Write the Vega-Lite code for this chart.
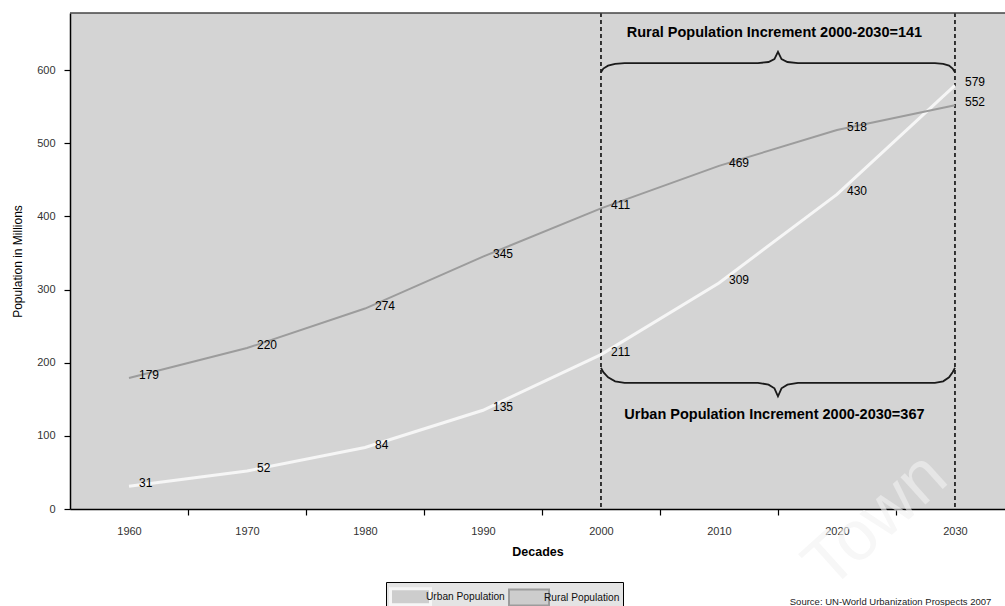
{
  "$schema": "https://vega.github.io/schema/vega-lite/v6.json",
  "width": 935,
  "height": 496,
  "autosize": {"type": "none"},
  "padding": {"left": 70, "top": 13, "right": 0, "bottom": 97},
  "background": "white",
  "config": {
    "font": "Liberation Sans",
    "view": {"stroke": null, "fill": "#d4d4d4"},
    "axis": {"grid": false, "zindex": 1, "domainColor": "#000", "domainWidth": 1.5, "tickColor": "#000", "tickWidth": 1.2, "labelColor": "#333", "labelFont": "Liberation Sans", "titleFont": "Liberation Sans"}
  },
  "datasets": {
    "pop": [
      {"decade": 1960, "series": "Urban Population", "value": 31},
      {"decade": 1970, "series": "Urban Population", "value": 52},
      {"decade": 1980, "series": "Urban Population", "value": 84},
      {"decade": 1990, "series": "Urban Population", "value": 135},
      {"decade": 2000, "series": "Urban Population", "value": 211},
      {"decade": 2010, "series": "Urban Population", "value": 309},
      {"decade": 2020, "series": "Urban Population", "value": 430},
      {"decade": 2030, "series": "Urban Population", "value": 579},
      {"decade": 1960, "series": "Rural Population", "value": 179},
      {"decade": 1970, "series": "Rural Population", "value": 220},
      {"decade": 1980, "series": "Rural Population", "value": 274},
      {"decade": 1990, "series": "Rural Population", "value": 345},
      {"decade": 2000, "series": "Rural Population", "value": 411},
      {"decade": 2010, "series": "Rural Population", "value": 469},
      {"decade": 2020, "series": "Rural Population", "value": 518},
      {"decade": 2030, "series": "Rural Population", "value": 552}
    ],
    "markers": [{"x": 2000}, {"x": 2030}],
    "braces": [
      {"b": "top", "i": 1, "x": 2000, "y": 597},
      {"b": "top", "i": 2, "x": 2000.2, "y": 602},
      {"b": "top", "i": 3, "x": 2000.6, "y": 606},
      {"b": "top", "i": 4, "x": 2001.2, "y": 608.6},
      {"b": "top", "i": 5, "x": 2002, "y": 609.5},
      {"b": "top", "i": 6, "x": 2013.3, "y": 609.5},
      {"b": "top", "i": 7, "x": 2014.2, "y": 611},
      {"b": "top", "i": 8, "x": 2014.7, "y": 615},
      {"b": "top", "i": 9, "x": 2015, "y": 625},
      {"b": "top", "i": 10, "x": 2015.3, "y": 615},
      {"b": "top", "i": 11, "x": 2015.8, "y": 611},
      {"b": "top", "i": 12, "x": 2016.7, "y": 609.5},
      {"b": "top", "i": 13, "x": 2028.3, "y": 609.5},
      {"b": "top", "i": 14, "x": 2029, "y": 608.6},
      {"b": "top", "i": 15, "x": 2029.5, "y": 606},
      {"b": "top", "i": 16, "x": 2029.8, "y": 602},
      {"b": "top", "i": 17, "x": 2030, "y": 597},
      {"b": "bottom", "i": 1, "x": 2000, "y": 193},
      {"b": "bottom", "i": 2, "x": 2000.2, "y": 187},
      {"b": "bottom", "i": 3, "x": 2000.6, "y": 180},
      {"b": "bottom", "i": 4, "x": 2001.2, "y": 174.5},
      {"b": "bottom", "i": 5, "x": 2002, "y": 172.5},
      {"b": "bottom", "i": 6, "x": 2013.3, "y": 172.5},
      {"b": "bottom", "i": 7, "x": 2014.2, "y": 170},
      {"b": "bottom", "i": 8, "x": 2014.7, "y": 165},
      {"b": "bottom", "i": 9, "x": 2015, "y": 154},
      {"b": "bottom", "i": 10, "x": 2015.3, "y": 165},
      {"b": "bottom", "i": 11, "x": 2015.8, "y": 170},
      {"b": "bottom", "i": 12, "x": 2016.7, "y": 172.5},
      {"b": "bottom", "i": 13, "x": 2028.3, "y": 172.5},
      {"b": "bottom", "i": 14, "x": 2029, "y": 174.5},
      {"b": "bottom", "i": 15, "x": 2029.5, "y": 180},
      {"b": "bottom", "i": 16, "x": 2029.8, "y": 187},
      {"b": "bottom", "i": 17, "x": 2030, "y": 193}
    ],
    "notes": [
      {"x": 2014.7, "y": 650, "label": "Rural Population Increment 2000-2030=141"},
      {"x": 2014.7, "y": 128.5, "label": "Urban Population Increment 2000-2030=367"}
    ],
    "watermark": [{"x": 2023.3, "y": -16, "label": "Town"}],
    "source": [{"x": 2016.0, "y": -131, "label": "Source: UN-World Urbanization Prospects 2007"}]
  },
  "layer": [
    {
      "data": {"name": "markers"},
      "mark": {"type": "rule", "color": "#000", "strokeWidth": 1.5, "strokeDash": [4, 3]},
      "encoding": {
        "x": {"field": "x", "type": "quantitative", "scale": {"domain": [1955, 2034.24], "nice": false, "zero": false}}
      }
    },
    {
      "data": {"name": "pop"},
      "mark": {"type": "line", "clip": true},
      "encoding": {
        "x": {
          "field": "decade", "type": "quantitative",
          "scale": {"domain": [1955, 2034.24], "nice": false, "zero": false},
          "axis": {
            "title": "Decades", "titleFontWeight": "bold", "titleFontSize": 12.5, "titleColor": "#000", "titlePadding": 9,
            "values": [1960, 1965, 1970, 1975, 1980, 1985, 1990, 1995, 2000, 2005, 2010, 2015, 2020, 2025, 2030],
            "labelExpr": "datum.value % 10 === 0 ? '' + datum.value : ''",
            "tickOpacity": {"condition": {"test": "datum.value % 10 === 0", "value": 0}, "value": 1},
            "tickSize": 6, "labelPadding": 10, "labelFontSize": 11, "labelFlush": false
          }
        },
        "y": {
          "field": "value", "type": "quantitative",
          "scale": {"domain": [0, 678], "nice": false},
          "axis": {
            "title": "Population in Millions", "titleFontWeight": "normal", "titleFontSize": 12, "titleColor": "#000", "titlePadding": 12,
            "values": [0, 100, 200, 300, 400, 500, 600],
            "tickSize": 6, "labelPadding": 9, "labelFontSize": 11
          }
        },
        "color": {
          "field": "series", "type": "nominal",
          "scale": {"domain": ["Urban Population", "Rural Population"], "range": ["#f6f6f6", "#9c9c9c"]},
          "legend": {
            "title": null, "orient": "none", "legendX": 316, "legendY": 569, "direction": "horizontal",
            "strokeColor": "#000", "padding": 3, "fillColor": "#e4e4e4",
            "symbolType": "M-2,-0.8H2V0.8H-2Z", "symbolSize": 400, "symbolOffset": 10, "symbolFillColor": "#cdcdcd", "symbolStrokeWidth": 0,
            "labelFontSize": 10.2, "labelColor": "#111", "labelOffset": 4, "columnPadding": 0
          }
        },
        "strokeWidth": {
          "field": "series", "type": "nominal",
          "scale": {"domain": ["Urban Population", "Rural Population"], "range": [3, 2]},
          "legend": null
        }
      }
    },
    {
      "data": {"name": "watermark"},
      "mark": {"type": "text", "font": "Liberation Sans", "fontSize": 70, "angle": -42, "color": "#f2f2f2", "opacity": 0.6, "clip": false, "align": "center", "baseline": "middle"},
      "encoding": {
        "x": {"field": "x", "type": "quantitative"},
        "y": {"field": "y", "type": "quantitative"},
        "text": {"field": "label"}
      }
    },
    {
      "data": {"name": "pop"},
      "mark": {"type": "text", "align": "left", "baseline": "middle", "dx": 10, "dy": -3, "fontSize": 12, "color": "#000"},
      "encoding": {
        "x": {"field": "decade", "type": "quantitative"},
        "y": {"field": "value", "type": "quantitative"},
        "text": {"field": "value", "type": "quantitative"}
      }
    },
    {
      "data": {"name": "braces"},
      "mark": {"type": "line", "color": "#1a1a1a", "strokeWidth": 1.8, "clip": false},
      "encoding": {
        "x": {"field": "x", "type": "quantitative"},
        "y": {"field": "y", "type": "quantitative"},
        "detail": {"field": "b"},
        "order": {"field": "i", "type": "quantitative"}
      }
    },
    {
      "data": {"name": "notes"},
      "mark": {"type": "text", "fontSize": 14.5, "fontWeight": "bold", "color": "#000", "align": "center", "baseline": "middle"},
      "encoding": {
        "x": {"field": "x", "type": "quantitative"},
        "y": {"field": "y", "type": "quantitative"},
        "text": {"field": "label"}
      }
    },
    {
      "data": {"name": "source"},
      "mark": {"type": "text", "fontSize": 9.5, "color": "#222", "align": "left", "baseline": "alphabetic", "clip": false},
      "encoding": {
        "x": {"field": "x", "type": "quantitative"},
        "y": {"field": "y", "type": "quantitative"},
        "text": {"field": "label"}
      }
    },
    {
      "mark": {"type": "rule", "color": "#444", "strokeWidth": 1.5},
      "encoding": {
        "y": {"datum": 678, "type": "quantitative"}
      }
    }
  ]
}
